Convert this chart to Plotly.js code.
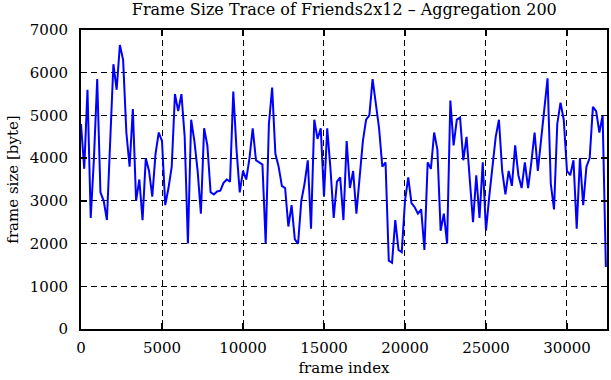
<!DOCTYPE html>
<html>
<head>
<meta charset="utf-8">
<script src="https://cdn.plot.ly/plotly-3.0.1.min.js"></script>
<style>body{margin:0;padding:0;background:#fff}#chart{width:611px;height:380px}</style>
</head>
<body>
<div id="chart"></div>
<script>
var chartTitle = "Frame Size Trace of Friends2x12 \u2013 Aggregation 200";
var xTitle = "frame index";
var yTitle = "frame size [byte]";
var xTicks = [0, 5000, 10000, 15000, 20000, 25000, 30000];
var yTicks = [0, 1000, 2000, 3000, 4000, 5000, 6000, 7000];

var frameIndex = [
  0,200,400,600,800,1000,1200,1400,1600,1800,
  2000,2200,2400,2600,2800,3000,3200,3400,3600,3800,
  4000,4200,4400,4600,4800,5000,5200,5400,5600,5800,
  6000,6200,6400,6600,6800,7000,7200,7400,7600,7800,
  8000,8200,8400,8600,8800,9000,9200,9400,9600,9800,
  10000,10200,10400,10600,10800,11000,11200,11400,11600,11800,
  12000,12200,12400,12600,12800,13000,13200,13400,13600,13800,
  14000,14200,14400,14600,14800,15000,15200,15400,15600,15800,
  16000,16200,16400,16600,16800,17000,17200,17400,17600,17800,
  18000,18200,18400,18600,18800,19000,19200,19400,19600,19800,
  20000,20200,20400,20600,20800,21000,21200,21400,21600,21800,
  22000,22200,22400,22600,22800,23000,23200,23400,23600,23800,
  24000,24200,24400,24600,24800,25000,25200,25400,25600,25800,
  26000,26200,26400,26600,26800,27000,27200,27400,27600,27800,
  28000,28200,28400,28600,28800,29000,29200,29400,29600,29800,
  30000,30200,30400,30600,30800,31000,31200,31400,31600,31800,
  32000,32200,32400
];

var frameSize = [
  4800,3750,5600,2600,4000,5850,3200,3000,2550,4500,
  6200,5600,6650,6300,4600,3800,5150,3000,3500,2550,
  4000,3700,3100,4100,4600,4400,2900,3300,3800,5500,
  5100,5500,4500,2000,4900,4400,3700,2700,4700,4300,
  3200,3150,3220,3240,3420,3500,3450,5560,4200,3200,
  3700,3500,4000,4700,3950,3900,3850,2000,4800,5650,
  4100,3800,3350,3300,2400,2900,2100,2000,3000,3400,
  3950,2350,4900,4450,4700,3100,4700,3750,2600,3450,
  3550,2550,4400,3300,3700,2700,3600,4400,4900,5000,
  5850,5300,4700,3800,3900,1600,1550,2550,1850,1800,
  3000,3550,2950,2850,2700,2800,1850,3900,3750,4600,
  4200,2300,2700,2000,5350,4300,4900,4950,3950,4500,
  3500,2500,3600,2600,3900,2300,3100,3800,4500,4900,
  3700,3150,3700,3350,4300,3600,3300,3900,3300,3900,
  4600,3700,4400,5200,5870,3400,2800,4800,5300,4900,
  3700,3600,3950,2350,4000,2900,3800,4000,5200,5100,
  4600,5000,1450
];

var serif = "DejaVu Serif, serif";

var trace = {
  x: frameIndex,
  y: frameSize,
  type: "scatter",
  mode: "lines",
  line: {color: "#0000ff", width: 2},
  hoverinfo: "skip"
};

var axisCommon = {
  showline: true,
  linecolor: "#000",
  linewidth: 2,
  mirror: "allticks",
  ticks: "inside",
  ticklen: 6,
  tickwidth: 1.5,
  tickcolor: "#000",
  showgrid: true,
  gridcolor: "#000",
  gridwidth: 1,
  griddash: "6px,4px",
  zeroline: false,
  tickfont: {family: serif, size: 15, color: "#000"}
};

var layout = {
  width: 611,
  height: 380,
  margin: {l: 81, r: 4, t: 30, b: 51, pad: 0},
  paper_bgcolor: "#fff",
  plot_bgcolor: "#fff",
  showlegend: false,
  title: {
    text: chartTitle,
    font: {family: serif, size: 16, color: "#000"},
    x: 0.5635, xanchor: "center",
    y: 0.99, yanchor: "top"
  },
  xaxis: Object.assign({}, axisCommon, {
    range: [0, 32470],
    tickvals: xTicks,
    ticktext: xTicks.map(String),
    ticklabelstandoff: 4,
    title: {text: xTitle, font: {family: serif, size: 15, color: "#000"}, standoff: 6}
  }),
  yaxis: Object.assign({}, axisCommon, {
    range: [0, 7000],
    tickvals: yTicks,
    ticktext: yTicks.map(String),
    ticklabelstandoff: 8,
    title: {text: yTitle, font: {family: serif, size: 15, color: "#000"}, standoff: 8}
  })
};

Plotly.newPlot("chart", [trace], layout, {displayModeBar: false, staticPlot: true});
</script>
</body>
</html>
